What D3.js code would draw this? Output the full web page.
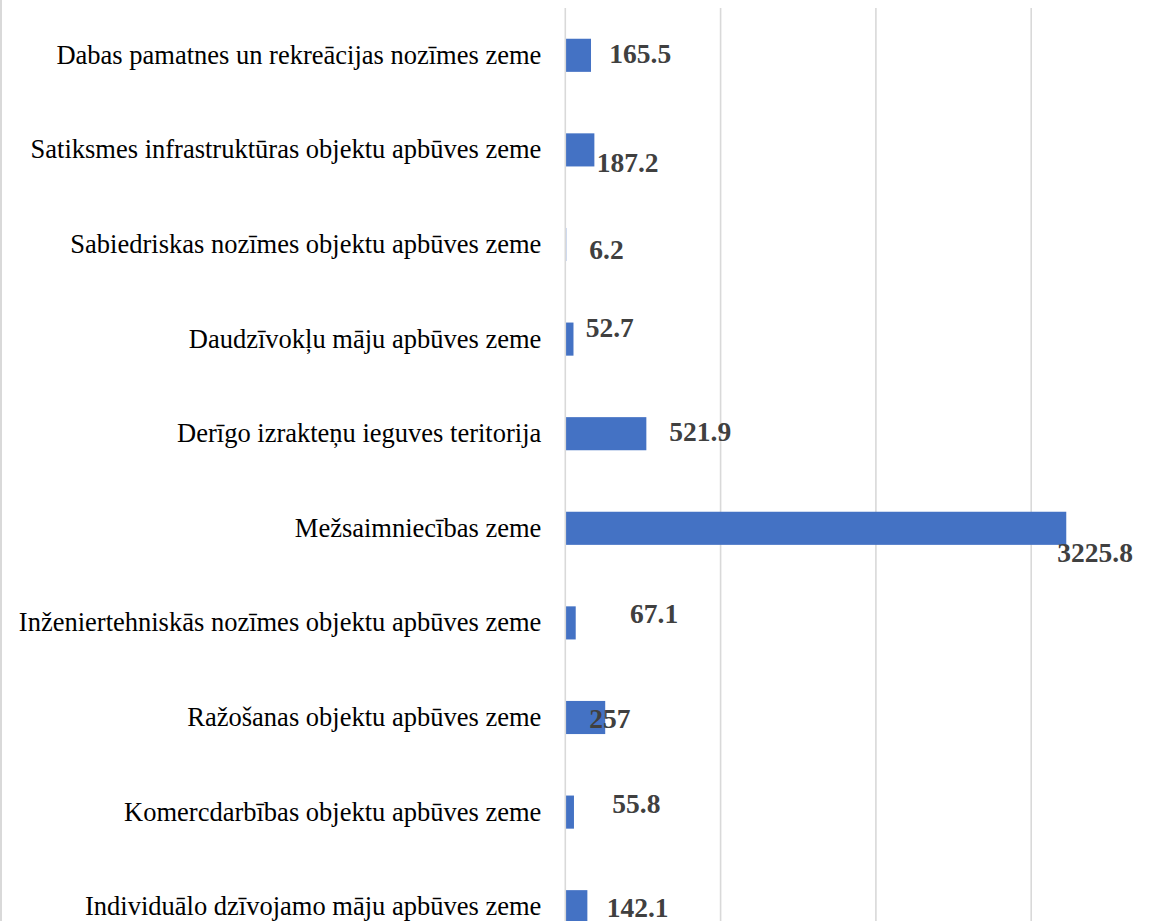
<!DOCTYPE html>
<html>
<head>
<meta charset="utf-8">
<script src="https://cdn.jsdelivr.net/npm/d3@7"></script>
<style>
  html, body { margin: 0; padding: 0; background: #fff; }
  svg { display: block; }
</style>
</head>
<body>
<svg id="chart" width="1172" height="921"></svg>
<script>
// ---- data (top to bottom) ----
const categories = [
  "Dabas pamatnes un rekreācijas nozīmes zeme",
  "Satiksmes infrastruktūras objektu apbūves zeme",
  "Sabiedriskas nozīmes objektu apbūves zeme",
  "Daudzīvokļu māju apbūves zeme",
  "Derīgo izrakteņu ieguves teritorija",
  "Mežsaimniecības zeme",
  "Inženiertehniskās nozīmes objektu apbūves zeme",
  "Ražošanas objektu apbūves zeme",
  "Komercdarbības objektu apbūves zeme",
  "Individuālo dzīvojamo māju apbūves zeme"
];
const values = [165.5, 187.2, 6.2, 52.7, 521.9, 3225.8, 67.1, 257, 55.8, 142.1];
const valueLabels = ["165.5", "187.2", "6.2", "52.7", "521.9", "3225.8", "67.1", "257", "55.8", "142.1"];
const gridTicks = [1000, 2000, 3000];

// label placement offsets (px) relative to bar end / band centre, as in the original
const labelDx = [18.3, 2.3, 23, 12.2, 22.9, -9, 54.3, -15.9, 38.3, 19.3];
const labelDy = [7.8, 21.8, 14.8, -2.4, 7, 33.4, 0.4, 10.8, 0.6, 10];

const svg = d3.select("#chart");
const W = 1172, H = 921;

const x = d3.scaleLinear().domain([0, 4000]).range([565.3, 565.3 + 621.2]);
const y = d3.scaleBand().domain(categories).range([8, 954])
  .paddingInner(0.65).paddingOuter(0.325);

// left frame edge
svg.append("rect").attr("x", 0).attr("y", 0).attr("width", 2).attr("height", H).attr("fill", "#d9d9d9");

// gridlines
svg.append("g").selectAll("line").data(gridTicks).join("line")
  .attr("x1", d => x(d)).attr("x2", d => x(d))
  .attr("y1", 8).attr("y2", H)
  .attr("stroke", "#d9d9d9").attr("stroke-width", 1.6);

// bars
svg.append("g").selectAll("rect").data(values).join("rect")
  .attr("x", x(0))
  .attr("y", (d, i) => y(categories[i]))
  .attr("width", d => x(d) - x(0))
  .attr("height", y.bandwidth())
  .attr("fill", "#4472C4");

// vertical category axis line
svg.append("line")
  .attr("x1", x(0)).attr("x2", x(0)).attr("y1", 8).attr("y2", H)
  .attr("stroke", "#d9d9d9").attr("stroke-width", 1.6);

// category labels
const yAxis = d3.axisLeft(y).tickSize(0).tickPadding(24);
const ga = svg.append("g").attr("transform", `translate(${x(0)},0)`).call(yAxis);
ga.select(".domain").remove();
ga.selectAll("text")
  .attr("font-family", "'Liberation Serif', 'Times New Roman', serif")
  .attr("font-size", 26.5)
  .attr("fill", "#000")
  .attr("dy", "0.32em");

// value labels
svg.append("g").selectAll("text").data(values).join("text")
  .attr("x", (d, i) => x(d) + labelDx[i])
  .attr("y", (d, i) => y(categories[i]) + y.bandwidth() / 2 + labelDy[i])
  .attr("font-family", "'Liberation Serif', 'Times New Roman', serif")
  .attr("font-weight", "bold")
  .attr("font-size", 27.5)
  .attr("fill", "#404040")
  .text((d, i) => valueLabels[i]);
</script>
</body>
</html>
